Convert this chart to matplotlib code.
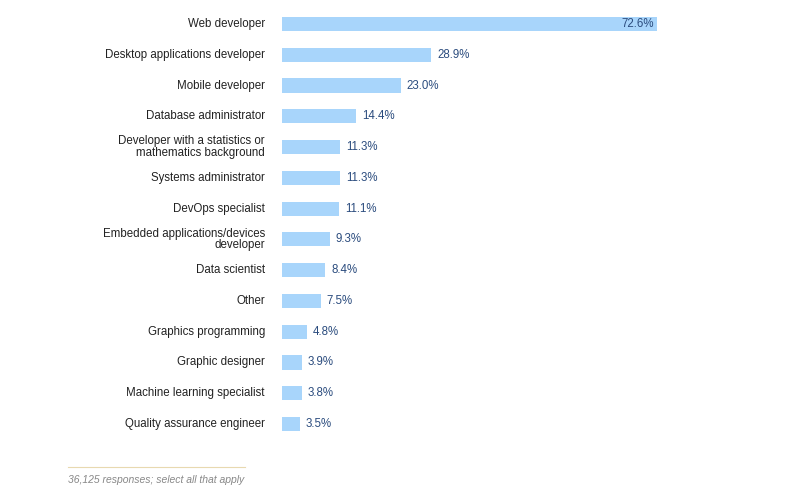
import matplotlib
matplotlib.use("Agg")
import matplotlib.pyplot as plt

categories = ["Web developer", "Desktop applications developer", "Mobile developer",
              "Database administrator", "Developer with a statistics or\nmathematics background",
              "Systems administrator", "DevOps specialist",
              "Embedded applications/devices\ndeveloper", "Data scientist", "Other",
              "Graphics programming", "Graphic designer", "Machine learning specialist",
              "Quality assurance engineer"]
values = [72.6, 28.9, 23.0, 14.4, 11.3, 11.3, 11.1, 9.3, 8.4, 7.5, 4.8, 3.9, 3.8, 3.5]

plt.rcParams['font.family'] = ['Liberation Sans', 'DejaVu Sans']
W, H = 800, 504
fig = plt.figure(figsize=(8, 5.04), dpi=100)
left, right = 282, 657
top, bottom = 8.6, 439.4
ax = fig.add_axes([left / W, 1 - bottom / H, (right - left) / W, (bottom - top) / H])
y = list(range(len(values)))
ax.barh(y, values, height=0.46, color="#a8d5fb")
ax.set_xlim(0, 72.6)
ax.set_ylim(len(values) - 0.5, -0.5)
ax.axis("off")
for i, (c, v) in enumerate(zip(categories, values)):
    ax.text(-3.3, i, c, ha="right", va="center", fontsize=8.3, color="#222222", linespacing=0.95)
    if i == 0:
        ax.text(v - 0.5, i, f"{v:.1f}%", ha="right", va="center", fontsize=8.3, color="#2b4c7e")
    else:
        ax.text(v + 1.1, i, f"{v:.1f}%", ha="left", va="center", fontsize=8.3, color="#2b4c7e")

fig.add_artist(plt.Line2D([68 / W, 245 / W], [1 - 467 / H, 1 - 467 / H], color="#e8d9b0", lw=0.8))
fig.text(68 / W, 1 - 480 / H, "36,125 responses; select all that apply", fontsize=7.5,
         style="italic", color="#888888", va="center")
fig.savefig("out.png", dpi=100)
